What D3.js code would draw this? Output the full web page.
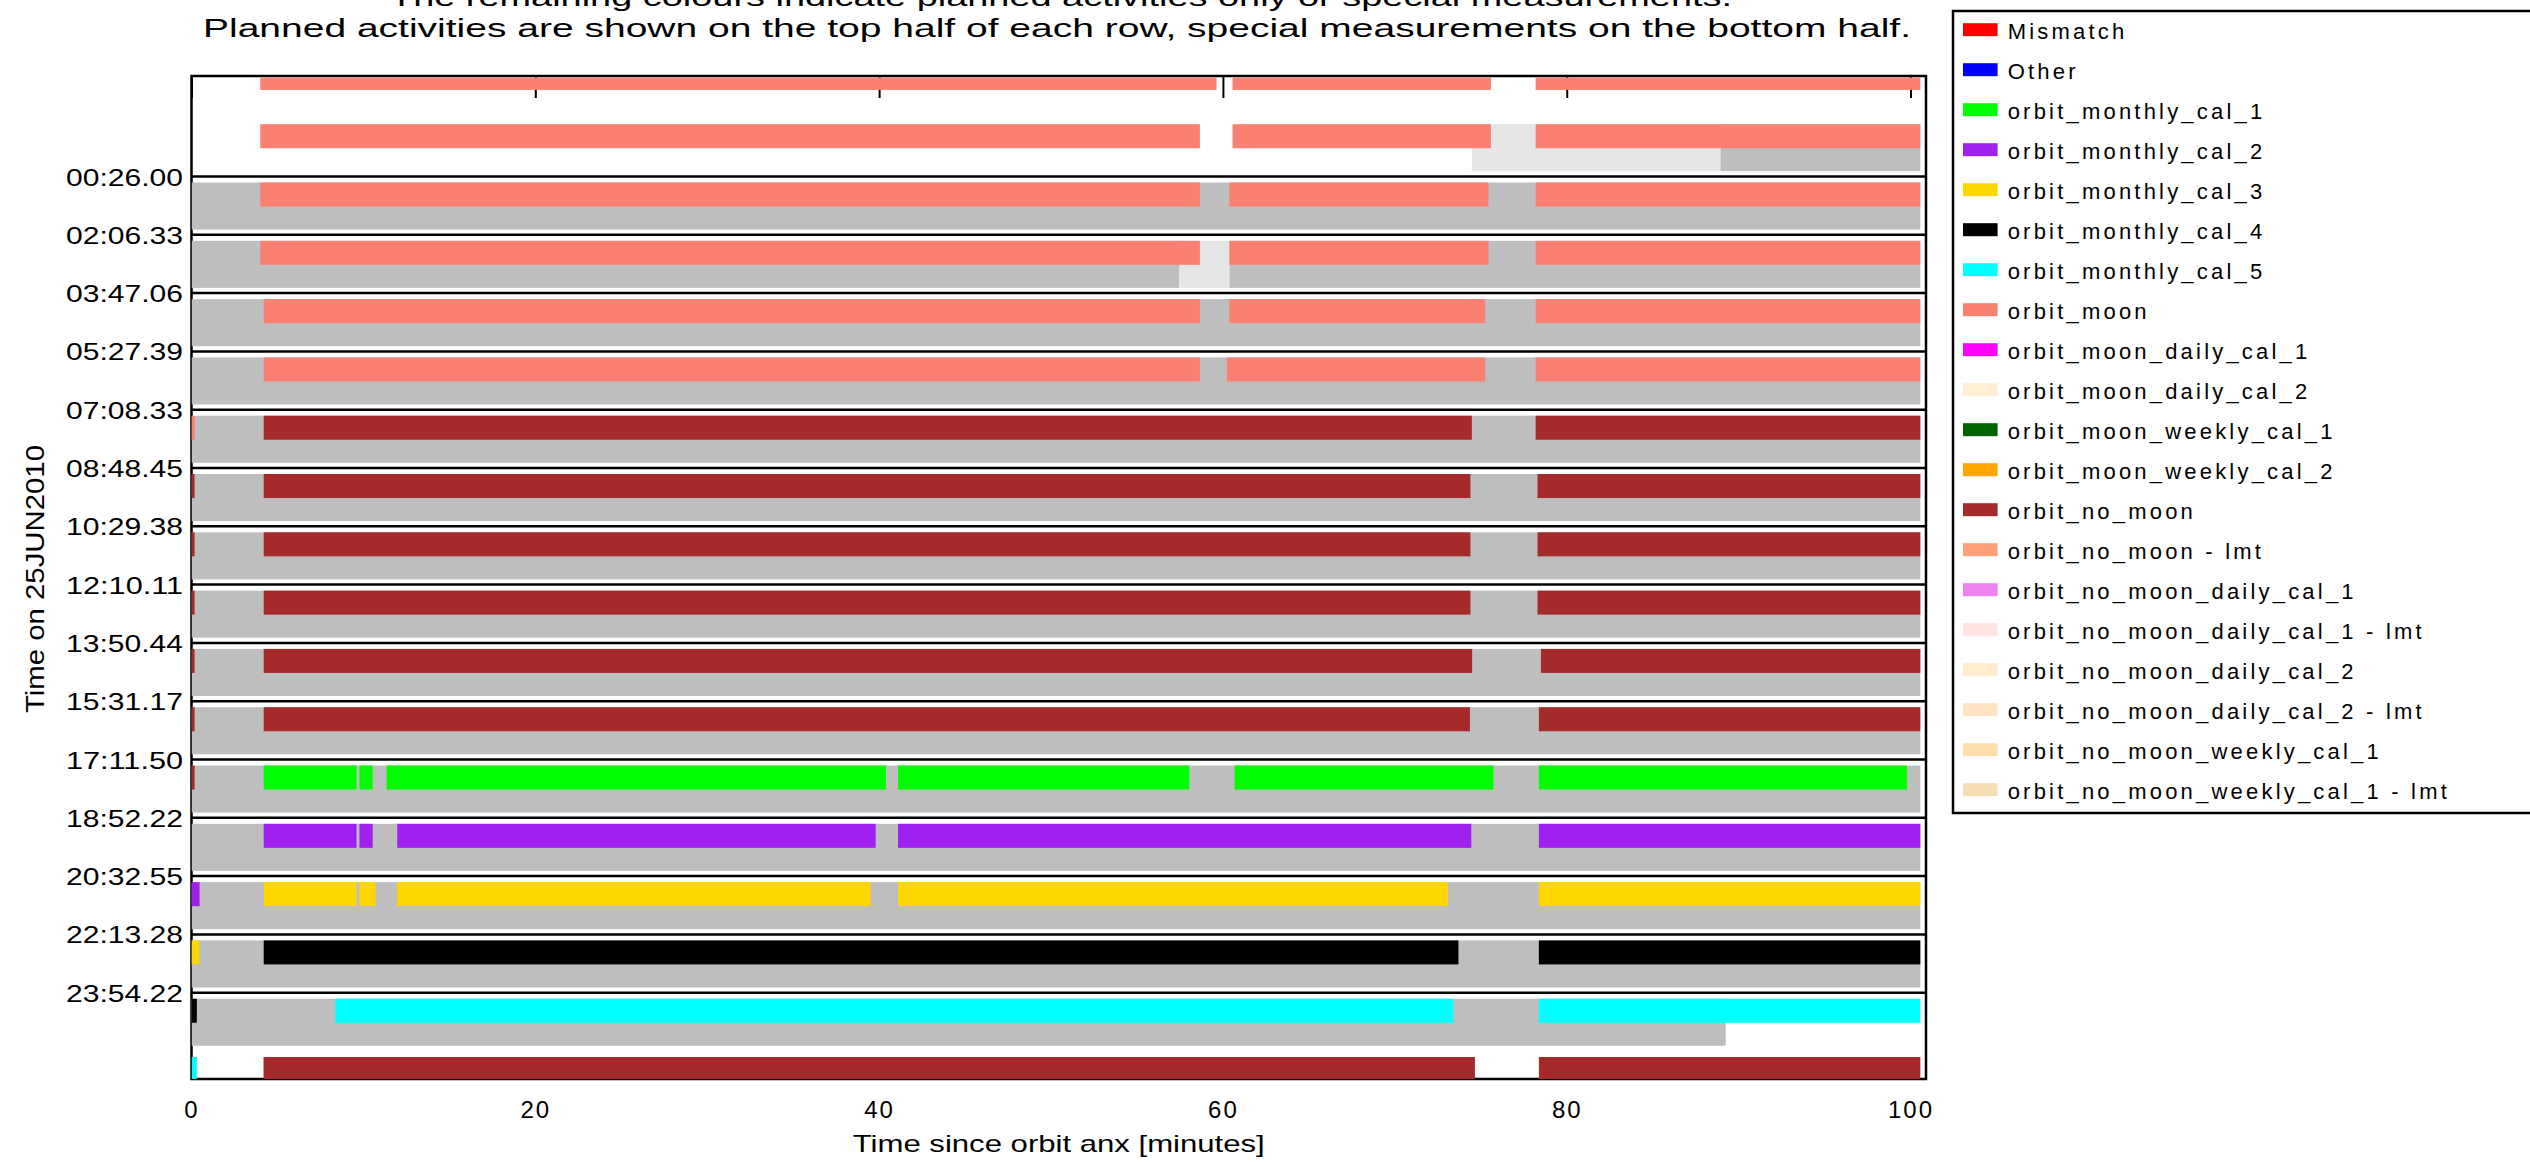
<!DOCTYPE html>
<html>
<head>
<meta charset="utf-8">
<script src="https://cdn.jsdelivr.net/npm/d3@7"></script>
<style>
  body { margin: 0; background: #fff; }
  text { font-family: "Liberation Sans", Arial, sans-serif; fill: #000; }
</style>
</head>
<body>
<div class="chart"></div>
<script>
// Row labels (start time of each orbit on 25JUN2010), row index 0..14
const rowLabels = ["00:26.00", "02:06.33", "03:47.06", "05:27.39", "07:08.33", "08:48.45",
    "10:29.38", "12:10.11", "13:50.44", "15:31.17", "17:11.50", "18:52.22",
    "20:32.55", "22:13.28", "23:54.22"];

const xTicks = [0, 20, 40, 60, 80, 100];

const activityNames = ["Mismatch", "Other", "orbit_monthly_cal_1", "orbit_monthly_cal_2",
    "orbit_monthly_cal_3", "orbit_monthly_cal_4", "orbit_monthly_cal_5", "orbit_moon",
    "orbit_moon_daily_cal_1", "orbit_moon_daily_cal_2", "orbit_moon_weekly_cal_1",
    "orbit_moon_weekly_cal_2", "orbit_no_moon", "orbit_no_moon - lmt",
    "orbit_no_moon_daily_cal_1", "orbit_no_moon_daily_cal_1 - lmt",
    "orbit_no_moon_daily_cal_2", "orbit_no_moon_daily_cal_2 - lmt",
    "orbit_no_moon_weekly_cal_1", "orbit_no_moon_weekly_cal_1 - lmt"];

const activityColors = ["#ff0000", "#0000ff", "#00ff00", "#a020f0", "#ffd700", "#000000",
    "#00ffff", "#fa8072", "#ff00ff", "#ffefd5", "#006400", "#ffa500", "#a52a2a",
    "#ffa07a", "#ee82ee", "#ffe4e1", "#ffebcd", "#ffe4c4", "#ffdead", "#f5deb3"];

// planned activities: [row, start min, end min, activity]
const plannedSegments = [
    [-2, 4.0, 59.63, "orbit_moon"], [-2, 60.56, 75.59, "orbit_moon"], [-2, 78.19, 100.57, "orbit_moon"],
    [-1, 4.0, 58.66, "orbit_moon"], [-1, 60.56, 75.59, "orbit_moon"], [-1, 78.19, 100.57, "orbit_moon"],
    [0, 4.0, 58.66, "orbit_moon"], [0, 60.38, 75.45, "orbit_moon"], [0, 78.19, 100.57, "orbit_moon"],
    [1, 4.0, 58.66, "orbit_moon"], [1, 60.38, 75.45, "orbit_moon"], [1, 78.19, 100.57, "orbit_moon"],
    [2, 4.2, 58.66, "orbit_moon"], [2, 60.38, 75.26, "orbit_moon"], [2, 78.19, 100.57, "orbit_moon"],
    [3, 4.2, 58.66, "orbit_moon"], [3, 60.23, 75.26, "orbit_moon"], [3, 78.19, 100.57, "orbit_moon"],
    [4, 0, 0.18, "orbit_moon"], [4, 4.2, 74.48, "orbit_no_moon"], [4, 78.19, 100.57, "orbit_no_moon"],
    [5, 0, 0.18, "orbit_no_moon"], [5, 4.2, 74.4, "orbit_no_moon"], [5, 78.3, 100.57, "orbit_no_moon"],
    [6, 0, 0.18, "orbit_no_moon"], [6, 4.2, 74.4, "orbit_no_moon"], [6, 78.3, 100.57, "orbit_no_moon"],
    [7, 0, 0.18, "orbit_no_moon"], [7, 4.2, 74.4, "orbit_no_moon"], [7, 78.3, 100.57, "orbit_no_moon"],
    [8, 0, 0.18, "orbit_no_moon"], [8, 4.2, 74.5, "orbit_no_moon"], [8, 78.5, 100.57, "orbit_no_moon"],
    [9, 0, 0.18, "orbit_no_moon"], [9, 4.2, 74.37, "orbit_no_moon"], [9, 78.38, 100.57, "orbit_no_moon"],
    [10, 0, 0.18, "orbit_no_moon"],
    [10, 4.2, 9.6, "orbit_monthly_cal_1"], [10, 9.77, 10.54, "orbit_monthly_cal_1"],
    [10, 11.35, 40.4, "orbit_monthly_cal_1"], [10, 41.1, 58.04, "orbit_monthly_cal_1"],
    [10, 60.68, 75.74, "orbit_monthly_cal_1"], [10, 78.38, 99.79, "orbit_monthly_cal_1"],
    [11, 4.2, 9.6, "orbit_monthly_cal_2"], [11, 9.77, 10.54, "orbit_monthly_cal_2"],
    [11, 11.97, 39.8, "orbit_monthly_cal_2"], [11, 41.1, 74.45, "orbit_monthly_cal_2"],
    [11, 78.38, 100.57, "orbit_monthly_cal_2"],
    [12, 0, 0.47, "orbit_monthly_cal_2"],
    [12, 4.2, 9.6, "orbit_monthly_cal_3"], [12, 9.77, 10.7, "orbit_monthly_cal_3"],
    [12, 11.97, 39.5, "orbit_monthly_cal_3"], [12, 41.1, 73.07, "orbit_monthly_cal_3"],
    [12, 78.38, 100.57, "orbit_monthly_cal_3"],
    [13, 0, 0.45, "orbit_monthly_cal_3"],
    [13, 4.2, 73.7, "orbit_monthly_cal_4"], [13, 78.38, 100.57, "orbit_monthly_cal_4"],
    [14, 0, 0.31, "orbit_monthly_cal_4"],
    [14, 8.37, 73.4, "orbit_monthly_cal_5"], [14, 78.38, 100.57, "orbit_monthly_cal_5"],
    [15, 0, 0.31, "orbit_monthly_cal_5"],
    [15, 4.19, 74.66, "orbit_no_moon"], [15, 78.38, 100.57, "orbit_no_moon"]
];

// special measurements: [row, start min, end min, kind]
const measurementSegments = [
    [-1, 74.48, 88.95, "light"], [-1, 88.95, 100.57, "gray"],
    [0, 0, 100.57, "gray"],
    [1, 0, 57.45, "gray"], [1, 57.45, 60.38, "light"], [1, 60.38, 100.57, "gray"],
    [2, 0, 100.57, "gray"], [3, 0, 100.57, "gray"], [4, 0, 100.57, "gray"],
    [5, 0, 100.57, "gray"], [6, 0, 100.57, "gray"], [7, 0, 100.57, "gray"],
    [8, 0, 100.57, "gray"], [9, 0, 100.57, "gray"], [10, 0, 100.57, "gray"],
    [11, 0, 100.57, "gray"], [12, 0, 100.57, "gray"], [13, 0, 100.57, "gray"],
    [14, 0, 89.25, "gray"]
];
const measurementColors = {gray: "#bebebe", light: "#e5e5e5"};

const svgWidth = 2530, svgHeight = 1162;
const plot = {left: 191.5, right: 1926, top: 76, bottom: 1079};

const svg = d3.select(".chart").append("svg")
    .attr("width", svgWidth)
    .attr("height", svgHeight);

// Scales
const xScale = d3.scaleLinear().domain([0, 100.9]).range([plot.left, plot.right]);
const yScale = d3.scaleLinear().domain([-1.724, 15.48]).range([plot.top, plot.bottom]);
const colorScale = d3.scaleOrdinal().domain(activityNames).range(activityColors);

// frame + ticks go first, the bars cover them
svg.append("rect")
    .attr("x", plot.left).attr("y", plot.top)
    .attr("width", plot.right - plot.left).attr("height", plot.bottom - plot.top)
    .attr("fill", "none").attr("stroke", "#000").attr("stroke-width", 2.5);

const xAxis = d3.axisBottom(xScale).tickValues(xTicks).tickSize(-22).tickSizeOuter(0).tickPadding(22);
const xAxisG = svg.append("g")
    .attr("transform", `translate(0, ${plot.bottom})`)
    .call(xAxis);
xAxisG.select(".domain").remove();
xAxisG.selectAll("line").attr("stroke", "#000").attr("stroke-width", 2);
xAxisG.selectAll("text")
    .style("font-family", "Liberation Sans, Arial, sans-serif")
    .style("font-size", "24px")
    .style("letter-spacing", "2px");

const topAxis = d3.axisTop(xScale).tickValues(xTicks).tickSize(-22).tickSizeOuter(0).tickFormat("");
const topAxisG = svg.append("g")
    .attr("transform", `translate(0, ${plot.top})`)
    .call(topAxis);
topAxisG.select(".domain").remove();
topAxisG.selectAll("line").attr("stroke", "#000").attr("stroke-width", 2);

// Bars
svg.append("clipPath").attr("id", "plotClip")
    .append("rect")
    .attr("x", plot.left).attr("y", plot.top + 1.5)
    .attr("width", plot.right - plot.left).attr("height", plot.bottom - plot.top - 1.5);

const barsG = svg.append("g").attr("clip-path", "url(#plotClip)");

// special measurements fill the whole row, planned activities sit on the top half
barsG.selectAll("rect.meas")
    .data(measurementSegments)
    .enter().append("rect")
    .attr("class", "meas")
    .attr("x", d => xScale(d[1]))
    .attr("width", d => xScale(d[2]) - xScale(d[1]))
    .attr("y", d => yScale(d[0] + 0.103))
    .attr("height", d => yScale(d[0] + 0.91) - yScale(d[0] + 0.103))
    .attr("fill", d => measurementColors[d[3]]);

barsG.selectAll("rect.plan")
    .data(plannedSegments)
    .enter().append("rect")
    .attr("class", "plan")
    .attr("x", d => xScale(d[1]))
    .attr("width", d => xScale(d[2]) - xScale(d[1]))
    .attr("y", d => yScale(d[0] + 0.103))
    .attr("height", d => yScale(d[0] + 0.515) - yScale(d[0] + 0.103))
    .attr("fill", d => colorScale(d[3]));

// Row separators and their labels
svg.selectAll("line.sep")
    .data(rowLabels)
    .enter().append("line")
    .attr("class", "sep")
    .attr("x1", plot.left).attr("x2", plot.right)
    .attr("y1", (d, i) => yScale(i)).attr("y2", (d, i) => yScale(i))
    .attr("stroke", "#000").attr("stroke-width", 2.5);

svg.selectAll("text.rowlab")
    .data(rowLabels)
    .enter().append("text")
    .attr("class", "rowlab")
    .attr("x", 183)
    .attr("y", (d, i) => yScale(i) + 9)
    .attr("text-anchor", "end")
    .style("font-size", "24px")
    .attr("textLength", 117)
    .attr("lengthAdjust", "spacingAndGlyphs")
    .text(d => d);

// Axis titles
svg.append("text")
    .attr("transform", "translate(44, 579) rotate(-90)")
    .attr("text-anchor", "middle")
    .style("font-size", "25px")
    .attr("textLength", 268)
    .attr("lengthAdjust", "spacingAndGlyphs")
    .text("Time on 25JUN2010");

svg.append("text")
    .attr("x", (plot.left + plot.right) / 2)
    .attr("y", 1152)
    .attr("text-anchor", "middle")
    .style("font-size", "24px")
    .attr("textLength", 412)
    .attr("lengthAdjust", "spacingAndGlyphs")
    .text("Time since orbit anx [minutes]");

// Title (first line is cut off at the top of the picture)
svg.append("text")
    .attr("x", 1061).attr("y", 6)
    .attr("text-anchor", "middle")
    .style("font-size", "25px")
    .attr("textLength", 1342)
    .attr("lengthAdjust", "spacingAndGlyphs")
    .text("The remaining colours indicate planned activities only or special measurements.");

svg.append("text")
    .attr("x", 1057).attr("y", 37)
    .attr("text-anchor", "middle")
    .style("font-size", "25px")
    .attr("textLength", 1708)
    .attr("lengthAdjust", "spacingAndGlyphs")
    .text("Planned activities are shown on the top half of each row, special measurements on the bottom half.");

// Legend
const legendScale = d3.scaleBand().domain(activityNames).range([9.7, 809.7]);

svg.append("rect")
    .attr("x", 1953).attr("y", 11)
    .attr("width", 700).attr("height", 802)
    .attr("fill", "none").attr("stroke", "#000").attr("stroke-width", 2.5);

const legendItems = svg.selectAll("g.legend")
    .data(activityNames)
    .enter().append("g")
    .attr("class", "legend")
    .attr("transform", d => `translate(1963, ${legendScale(d) + legendScale.bandwidth() / 2})`);

legendItems.append("rect")
    .attr("x", 0).attr("y", -6.5)
    .attr("width", 34.6).attr("height", 13)
    .attr("fill", d => colorScale(d));

legendItems.append("text")
    .attr("x", 44.7).attr("y", 9)
    .style("font-size", "22px")
    .style("letter-spacing", "3.2px")
    .text(d => d);
</script>
</body>
</html>
